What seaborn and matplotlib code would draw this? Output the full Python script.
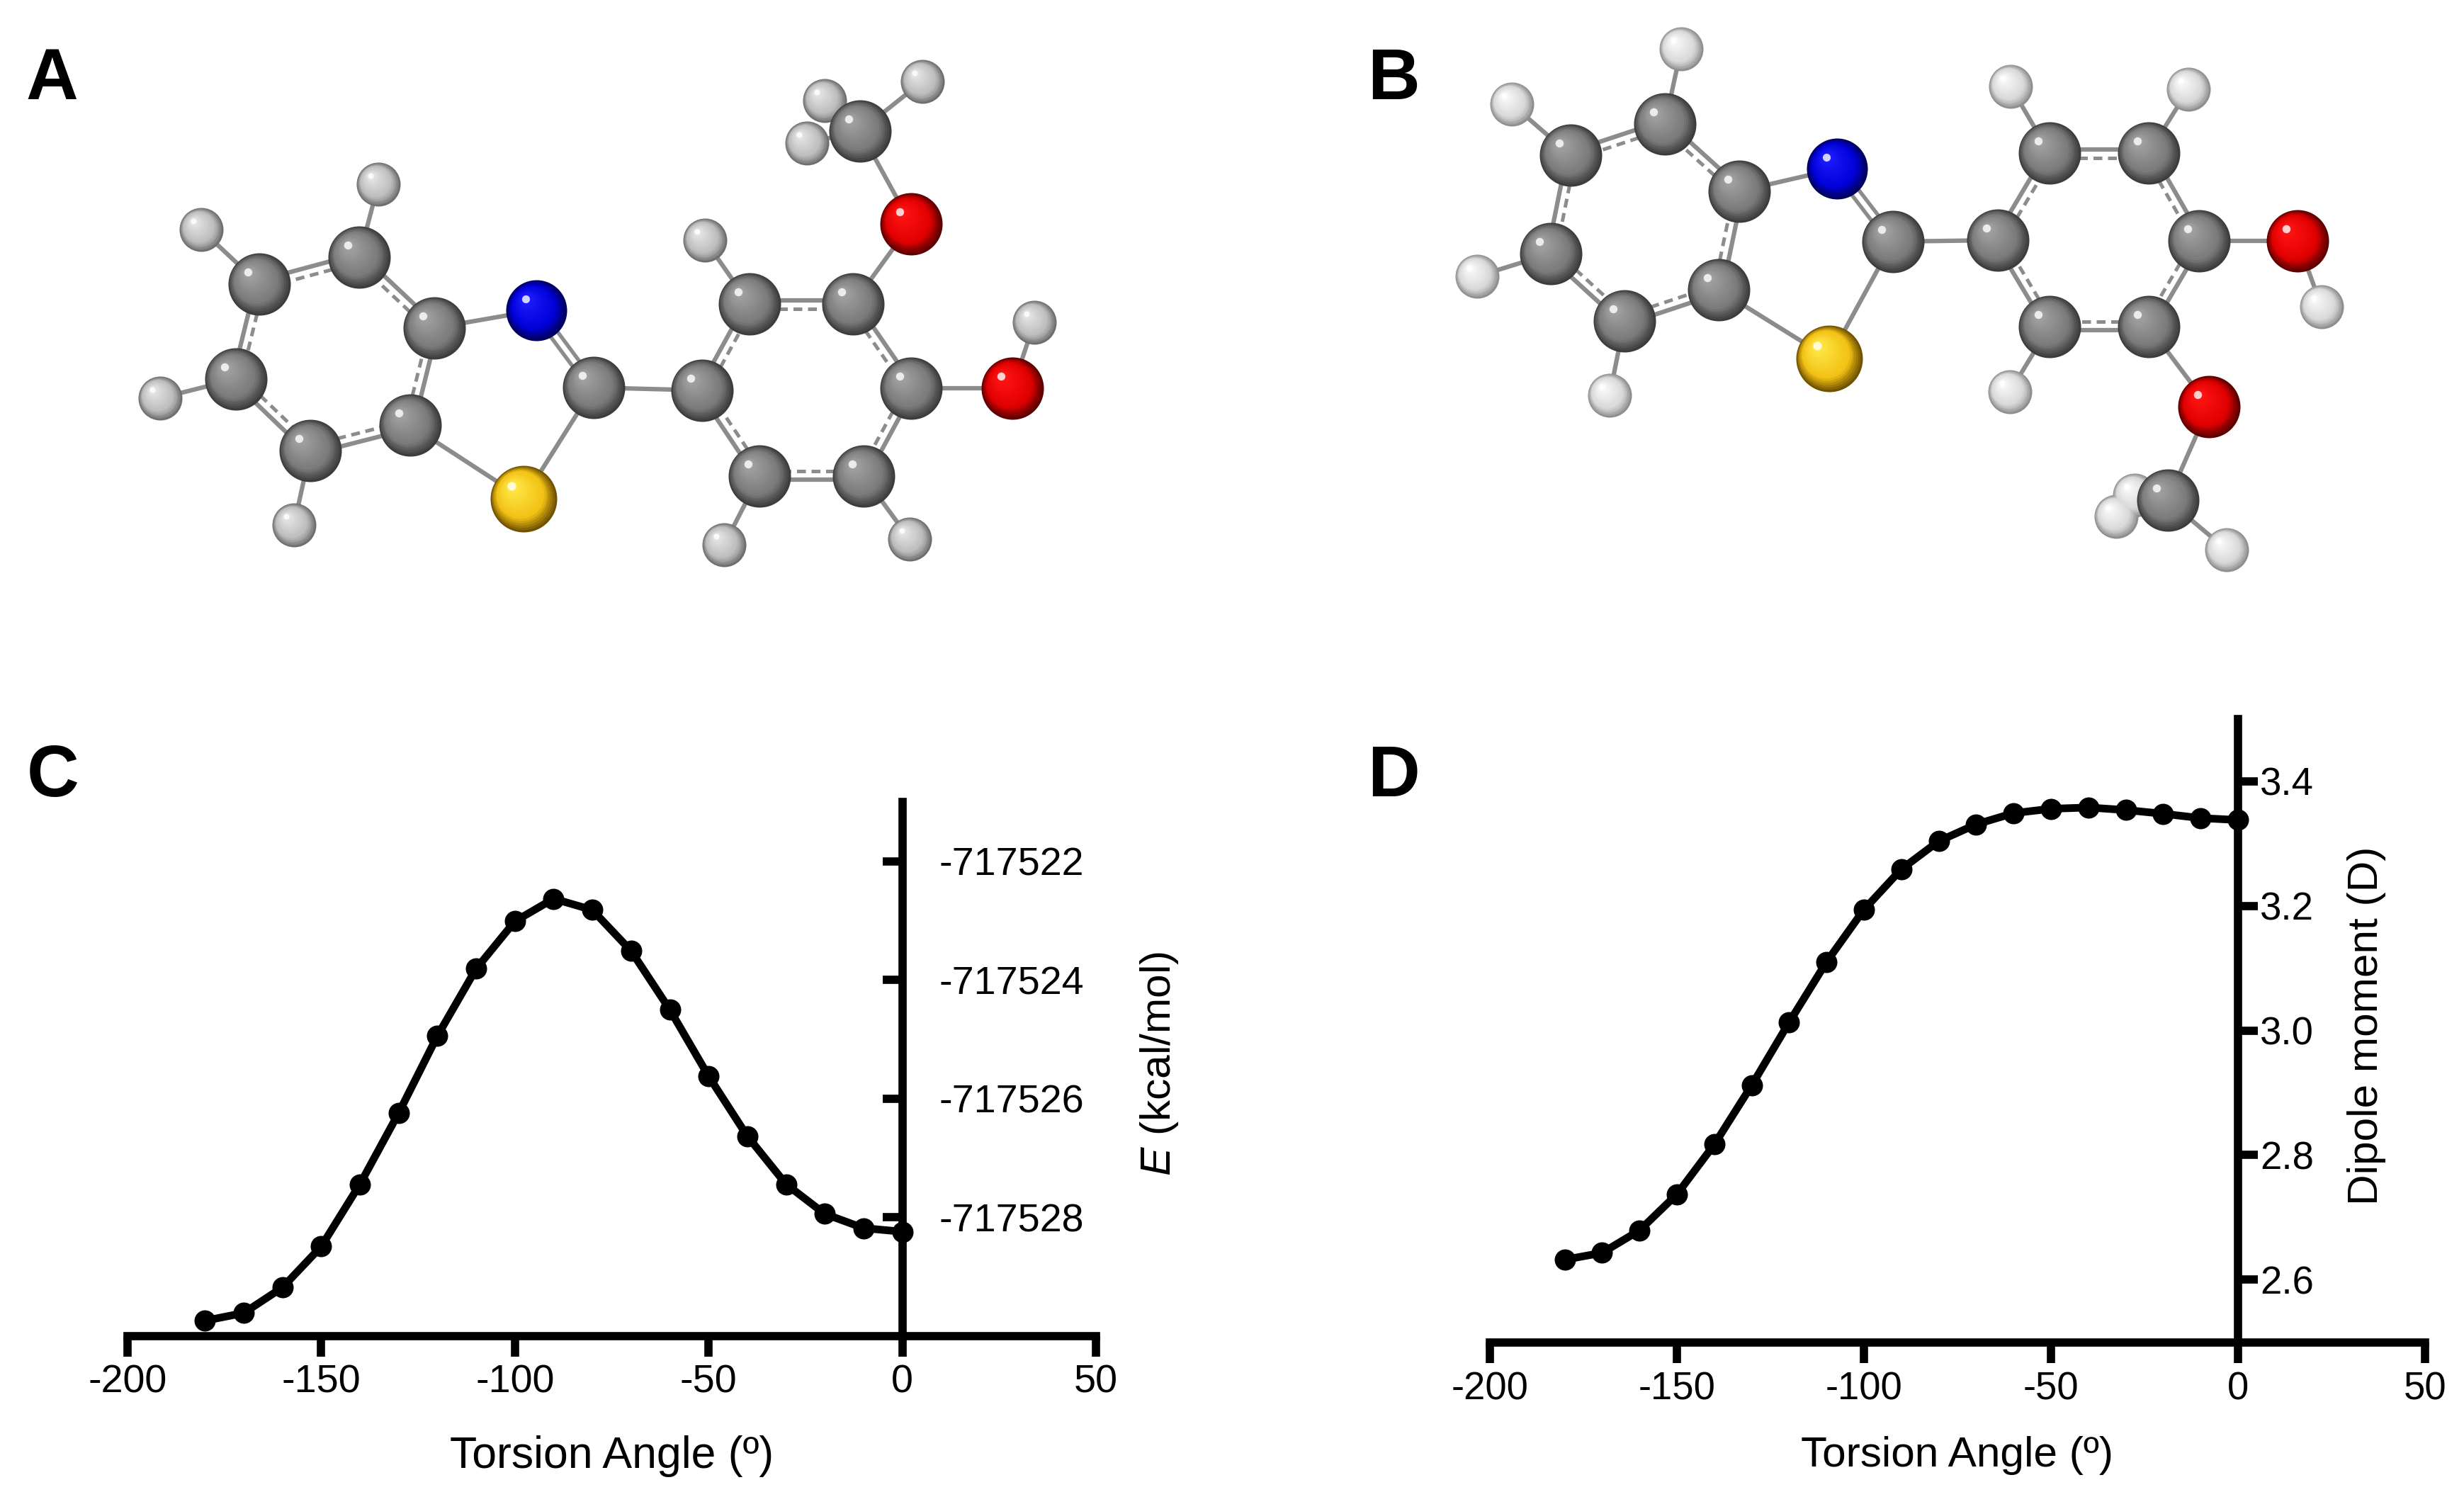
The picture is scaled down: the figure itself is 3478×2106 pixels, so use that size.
import numpy as np
import matplotlib
matplotlib.use("Agg")
import matplotlib.pyplot as plt
import seaborn as sns

W, H = 3478, 2106
DPI = 300

angle = [-180, -170, -160, -150, -140, -130, -120, -110, -100, -90,
         -80, -70, -60, -50, -40, -30, -20, -10, 0]
energy = [-717529.74, -717529.61, -717529.18, -717528.49, -717527.44, -717526.24,
          -717524.94, -717523.81, -717523.01, -717522.63, -717522.82, -717523.51,
          -717524.50, -717525.62, -717526.63, -717527.44, -717527.94, -717528.18,
          -717528.24]
dipole = [2.632, 2.643, 2.679, 2.737, 2.817, 2.912, 3.013, 3.110, 3.194, 3.259,
          3.304, 3.331, 3.349, 3.356, 3.358, 3.354, 3.348, 3.341, 3.338]

x_ticks = [-200, -150, -100, -50, 0, 50]
x_tick_labels = ['-200', '-150', '-100', '-50', '0', '50']
energy_ticks = [-717522, -717524, -717526, -717528]
energy_tick_labels = ['-717522', '-717524', '-717526', '-717528']
dipole_ticks = [2.6, 2.8, 3.0, 3.2, 3.4]
dipole_tick_labels = ['2.6', '2.8', '3.0', '3.2', '3.4']

# atoms of the two conformers, in full size image pixels
heavy = ['C1', 'C2', 'C3', 'C4', 'C5', 'C6', 'N1', 'C7', 'S1', 'C8', 'C9', 'C10',
         'C11', 'C12', 'C13', 'O1', 'Cm', 'O2']
a_hydrogens = ['H1', 'H2', 'H3', 'H4', 'H9', 'H12', 'H13', 'HO', 'Hm1', 'Hm2', 'Hm3']
a_heavy_x = [507, 366, 333, 438, 579, 613, 757, 838, 739, 991, 1058, 1204, 1286, 1219, 1072, 1286, 1214, 1429]
a_heavy_y = [363, 401, 535, 636, 600, 463, 438, 547, 704, 551, 429, 429, 548, 672, 672, 316, 185, 548]
a_hydrogen_x = [534, 284, 226, 415, 995, 1284, 1022, 1460, 1302, 1164, 1139]
a_hydrogen_y = [260, 324, 562, 741, 339, 761, 769, 455, 115, 142, 202]
b_hydrogens = ['H1', 'H2', 'H3', 'H4', 'H9', 'H10', 'H13', 'HO', 'Hm1', 'Hm2', 'Hm3']
b_heavy_x = [2350, 2217, 2189, 2293, 2426, 2455, 2593, 2672, 2582, 2820, 2893, 3033, 3104, 3033, 2893, 3118, 3060, 3243]
b_heavy_y = [175, 219, 358, 453, 409, 270, 238, 341, 506, 339, 216, 216, 340, 461, 461, 574, 706, 340]
b_hydrogen_x = [2373, 2134, 2085, 2272, 2838, 3089, 2837, 3277, 2987, 3143, 3013]
b_hydrogen_y = [69, 147, 390, 558, 122, 126, 553, 433, 729, 776, 699]

benzo_ring = ['C1', 'C2', 'C3', 'C4', 'C5', 'C6']
phenyl_ring = ['C8', 'C9', 'C10', 'C11', 'C12', 'C13']
core_bonds = [('C6', 'N1'), ('C7', 'S1'), ('S1', 'C5'), ('C7', 'C8'),
              ('C1', 'H1'), ('C2', 'H2'), ('C3', 'H3'), ('C4', 'H4'), ('C9', 'H9'),
              ('O1', 'Cm'), ('C11', 'O2'), ('O2', 'HO'), ('C13', 'H13'),
              ('Cm', 'Hm1'), ('Cm', 'Hm2'), ('Cm', 'Hm3')]
a_bonds = [('C10', 'O1'), ('C12', 'H12')]
b_bonds = [('C12', 'O1'), ('C10', 'H10')]

# dark, base, light
element_colors = {'C': ('#3c3c3c', '#7a7a7a', '#a2a2a2'),
                  'N': ('#00005c', '#0000d8', '#1c1cff'), 'O': ('#5c0000', '#e00000', '#ff1414'),
                  'S': ('#705200', '#f2c014', '#ffe846')}
a_hydrogen_colors = ('#6e6e6e', '#bcbcbc', '#e6e6e6')
b_hydrogen_colors = ('#8e8e8e', '#d8d8d8', '#fafafa')
element_radius = {'H': 31, 'C': 44, 'N': 43, 'O': 44, 'S': 47}
BOND = '#8c8c8c'


def make_axes(fig, left, right, top, bottom):
    return fig.add_axes([left / W, 1 - bottom / H, (right - left) / W, (bottom - top) / H])


def mix(c1, c2, t):
    c1 = np.array(matplotlib.colors.to_rgb(c1))
    c2 = np.array(matplotlib.colors.to_rgb(c2))
    return tuple(c1 + (c2 - c1) * t)


def segment(ax, x0, y0, x1, y1, **kws):
    sns.lineplot(x=[x0, x1], y=[y0, y1], sort=False, estimator=None, color=BOND, ax=ax, zorder=1, **kws)


def draw_ring(ax, pos, ring):
    cx = np.mean([pos[n][0] for n in ring])
    cy = np.mean([pos[n][1] for n in ring])
    for n0, n1 in zip(ring, ring[1:] + ring[:1]):
        p0, p1 = np.array(pos[n0], dtype=float), np.array(pos[n1], dtype=float)
        d = p1 - p0
        normal = np.array([-d[1], d[0]]) / np.hypot(*d)
        if np.dot(normal, np.array([cx, cy]) - p0) < 0:
            normal = -normal
        segment(ax, *(p0 - normal * 5), *(p1 - normal * 5), lw=1.5)
        segment(ax, *(p0 + normal * 7), *(p1 + normal * 7), lw=1.2, linestyle=(0, (2.5, 1.6)))


def draw_atoms(ax, xs, ys, element, colors, z):
    xs, ys = np.array(xs, dtype=float), np.array(ys, dtype=float)
    r = element_radius[element]
    dark, base, light = colors
    for t in np.linspace(0, 1, 20):
        f = 1 - 0.88 * t
        # the shade runs quickly from the rim to the base colour
        color = mix(dark, base, t / 0.3) if t < 0.3 else mix(base, light, (t - 0.3) / 0.7)
        size = (2 * r * f * 72 / DPI) ** 2
        sns.scatterplot(x=xs - 0.36 * r * t, y=ys - 0.38 * r * t, s=size, color=color,
                        linewidth=0, ax=ax, legend=False, zorder=z)
    sns.scatterplot(x=xs - 0.36 * r, y=ys - 0.38 * r, s=(0.26 * r * 72 / DPI) ** 2,
                    color=mix(light, 'white', 0.8), linewidth=0, ax=ax, legend=False, zorder=z)


def draw_molecule(ax, heavy_x, heavy_y, hydrogens, hydrogen_x, hydrogen_y, extra_bonds, hydrogen_colors):
    pos = dict(zip(heavy + hydrogens, zip(heavy_x + hydrogen_x, heavy_y + hydrogen_y)))
    for n0, n1 in core_bonds + extra_bonds:
        segment(ax, *pos[n0], *pos[n1], lw=1.5)
    # N=C double bond
    p0, p1 = np.array(pos['N1'], dtype=float), np.array(pos['C7'], dtype=float)
    normal = np.array([-(p1 - p0)[1], (p1 - p0)[0]]) / np.hypot(*(p1 - p0))
    segment(ax, *(p0 + normal * 6), *(p1 + normal * 6), lw=1.3)
    segment(ax, *(p0 - normal * 6), *(p1 - normal * 6), lw=1.3)
    draw_ring(ax, pos, benzo_ring)
    draw_ring(ax, pos, phenyl_ring)
    draw_atoms(ax, hydrogen_x, hydrogen_y, 'H', hydrogen_colors, 2)
    for element in 'CNOS':
        idx = [i for i, n in enumerate(heavy) if n[0] == element]
        draw_atoms(ax, [heavy_x[i] for i in idx], [heavy_y[i] for i in idx], element,
                   element_colors[element], 3)


def draw_scan(ax, y, ylim, yticks, ylabels, labelsize, xlabel_size, xlabel_pad):
    sns.lineplot(x=angle, y=y, estimator=None, color='black', lw=2.6, marker='o', markersize=7.2,
                 markeredgewidth=0, clip_on=False, ax=ax)
    ax.set_xlim(-200, 50)
    ax.set_ylim(*ylim)
    ax.set_xticks(x_ticks)
    ax.set_xticklabels(x_tick_labels)
    ax.set_yticks(yticks)
    ax.set_yticklabels(ylabels)
    for side in ['top', 'left']:
        ax.spines[side].set_visible(False)
    ax.spines['right'].set_position(('data', 0))
    for side in ['right', 'bottom']:
        ax.spines[side].set_linewidth(2.8)
        ax.spines[side].set_color('black')
    ax.patch.set_alpha(0)
    ax.tick_params(axis='x', bottom=True, direction='out', length=7.0, width=2.8, pad=2.6,
                   labelsize=labelsize, color='black', labelcolor='black')
    ax.set_xlabel('Torsion Angle (º)', fontsize=xlabel_size, labelpad=xlabel_pad, color='black')
    ax.set_ylabel('')


def main():
    sns.set_theme(style='white')
    plt.rcParams['font.family'] = ['Liberation Sans', 'DejaVu Sans']
    plt.rcParams['axes.unicode_minus'] = False
    plt.rcParams['mathtext.fontset'] = 'custom'
    plt.rcParams['mathtext.it'] = 'Liberation Sans:italic'
    plt.rcParams['mathtext.rm'] = 'Liberation Sans'

    fig = plt.figure(figsize=(W / DPI, H / DPI), dpi=DPI)

    back = fig.add_axes([0, 0, 1, 1])
    back.set_xlim(0, W)
    back.set_ylim(H, 0)
    draw_molecule(back, a_heavy_x, a_heavy_y, a_hydrogens, a_hydrogen_x, a_hydrogen_y, a_bonds, a_hydrogen_colors)
    draw_molecule(back, b_heavy_x, b_heavy_y, b_hydrogens, b_hydrogen_x, b_hydrogen_y, b_bonds, b_hydrogen_colors)
    back.set_xlim(0, W)
    back.set_ylim(H, 0)
    back.axis('off')

    for letter, lx, ly in [('A', 36, 140), ('B', 1930, 140), ('C', 38, 1124), ('D', 1930, 1124)]:
        back.text(lx, ly, letter, fontsize=24.5, fontweight='bold', color='black', ha='left', va='baseline')

    ax_c = make_axes(fig, 180, 1547, 1132, 1886)
    draw_scan(ax_c, energy, (-717530.0, -717521.0), energy_ticks, energy_tick_labels, 13.4, 15, 11.6)
    ax_c.tick_params(axis='y', which='major', direction='in', left=False, right=True, labelleft=False,
                     labelright=True, length=6.8, width=2.8, pad=12.5, labelsize=13.4,
                     color='black', labelcolor='black')
    back.text(1637, 1502, r'$\mathit{E}$ (kcal/mol)', rotation=90, fontsize=14.5, color='black',
              ha='center', va='center')

    ax_d = make_axes(fig, 2103, 3423, 1015, 1895)
    draw_scan(ax_d, dipole, (2.499, 3.5), dipole_ticks, dipole_tick_labels, 13.1, 14.5, 9.5)
    ax_d.tick_params(axis='y', which='major', direction='out', left=False, right=True, labelleft=False,
                     labelright=True, length=6.8, width=2.8, pad=0.6, labelsize=13.1,
                     color='black', labelcolor='black')
    back.text(3341, 1448, 'Dipole moment (D)', rotation=90, fontsize=14.5, color='black',
              ha='center', va='center')

    fig.savefig('out.png', dpi=DPI)


if __name__ == "__main__":
    main()
